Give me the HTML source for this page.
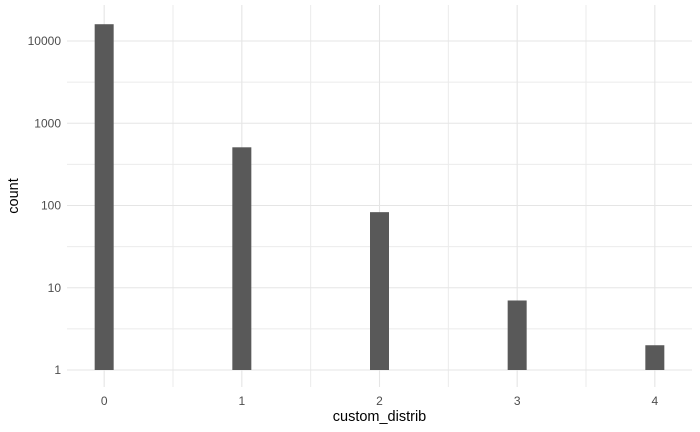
<!DOCTYPE html>
<html><head><meta charset="utf-8"><style>
html,body{margin:0;padding:0;background:#fff;}
svg{display:block;font-family:"Liberation Sans",sans-serif;}
</style></head><body>
<svg id="chart" width="700" height="432"></svg>
<script>
const categories = [0, 1, 2, 3, 4];
const counts = [16000, 510, 83, 7, 2];
const yTicks = [1, 10, 100, 1000, 10000];
const yTickLabels = ["1", "10", "100", "1000", "10000"];
const xTickLabels = ["0", "1", "2", "3", "4"];

const NS = "http://www.w3.org/2000/svg";
const svg = document.getElementById("chart");
const L = 67, R = 692, T = 5, B = 387;
const xMin = -0.27, xMax = 4.27;
function xs(v){ return L + (v - xMin) / (xMax - xMin) * (R - L); }
function ys(v){ return 370 - Math.log10(v) * 82.25; }
function mk(tag, attrs){ const e = document.createElementNS(NS, tag); for (const k in attrs) e.setAttribute(k, attrs[k]); svg.appendChild(e); return e; }

// minor grid
for (let i = 0; i < yTicks.length - 1; i++) {
  const y = ys(Math.sqrt(yTicks[i] * yTicks[i+1]));
  const g = mk("line", {x1:L, x2:R, y1:y, y2:y, stroke:"#ebebeb", "stroke-width":1});
  
  
}
for (let i = 0; i < categories.length - 1; i++) {
  const x = xs((categories[i] + categories[i+1]) / 2);
  const g = mk("line", {x1:x, x2:x, y1:T, y2:B, stroke:"#ebebeb", "stroke-width":1});
  
  
}
// major grid + labels
yTicks.forEach((t, i) => {
  const y = ys(t);
  const g = mk("line", {x1:L, x2:R, y1:y, y2:y, stroke:"#e5e5e5", "stroke-width":1.1});
  
  
  const tx = mk("text", {x:61, y:y + 4, "text-anchor":"end", "font-size":"12", fill:"#4d4d4d"});
  tx.textContent = yTickLabels[i];
  
  
});
categories.forEach((c, i) => {
  const x = xs(c);
  const g = mk("line", {x1:x, x2:x, y1:T, y2:B, stroke:"#e5e5e5", "stroke-width":1.1});
  
  
  const tx = mk("text", {x:x, y:405, "text-anchor":"middle", "font-size":"12", fill:"#4d4d4d"});
  tx.textContent = xTickLabels[i];
  
  
});
// bars
const bw = 0.138;
categories.forEach((c, i) => {
  const x0 = xs(c - bw/2), x1 = xs(c + bw/2);
  const yTop = ys(counts[i]), yBot = ys(1);
  const r = mk("rect", {x:x0, y:yTop, width:x1 - x0, height:yBot - yTop, fill:"#595959"});
  
  
});
const xt = mk("text", {x:(L+R)/2, y:421, "text-anchor":"middle", "font-size":"14.5", fill:"#000"});
xt.textContent = "custom_distrib";


const yt = mk("text", {x:0, y:0, "text-anchor":"middle", "font-size":"14.5", fill:"#000", transform:"translate(18," + ((T+B)/2) + ") rotate(-90)"});
yt.textContent = "count";


</script>
</body></html>
